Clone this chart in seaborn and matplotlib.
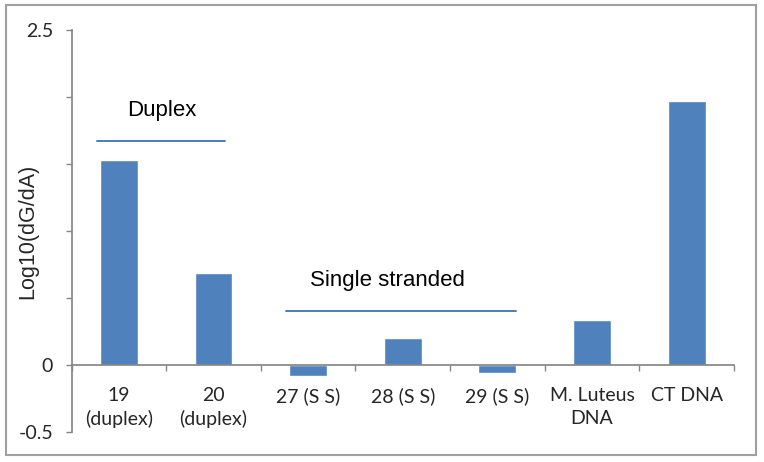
import matplotlib
matplotlib.use("Agg")
import matplotlib.pyplot as plt
import matplotlib.patches as mpatches
from matplotlib.ticker import FixedLocator
import seaborn as sns
import pandas as pd

categories = ["19\n(duplex)", "20\n(duplex)", "27 (S S)", "28 (S S)", "29 (S S)", "M. Luteus\nDNA", "CT DNA"]
values = [1.53, 0.69, -0.08, 0.20, -0.06, 0.335, 1.97]
ytick_values = [-0.5, 0, 0.5, 1.0, 1.5, 2.0, 2.5]
ytick_labels = ["-0.5", "0", "", "", "", "", "2.5"]
group_labels = ["Duplex", "Single stranded"]
group_line_x = [(-0.23, 1.12), (1.765, 4.196)]
group_line_y = [1.675, 0.405]
group_text_xy = [(0.455, 1.90), (2.84, 0.63)]

sns.set_theme(style="white")
plt.rcParams["font.family"] = ["Liberation Sans", "DejaVu Sans"]

df = pd.DataFrame({"cat": categories, "val": values})

fig = plt.figure(figsize=(7.64, 4.62), dpi=100)
ax = fig.add_axes([71.5/764, 30/462, (734-71.5)/764, (432-30)/462])

sns.barplot(data=df, x="cat", y="val", color="#4F81BD", saturation=1, width=0.4, ax=ax)

ax.set_ylim(-0.5, 2.5)
ax.set_xlim(-0.5, len(categories) - 0.5)
ax.set_yticks(ytick_values)
ax.set_yticklabels(ytick_labels)
ax.set_ylabel("Log10(dG/dA)", fontsize=15.5)
ax.yaxis.set_label_coords((38 - 71.5) / (734 - 71.5), 0.5)
ax.set_xlabel("")

spine_col = "#868686"
for s in ["top", "right"]:
    ax.spines[s].set_visible(False)
ax.spines["left"].set_color(spine_col)
ax.spines["bottom"].set_color(spine_col)
ax.spines["bottom"].set_position(("data", 0))
ax.tick_params(axis="y", which="major", left=True, length=4.3, color=spine_col, width=1, pad=9)
ax.tick_params(axis="x", which="major", bottom=False, length=0, pad=16)
ax.xaxis.set_minor_locator(FixedLocator([i - 0.5 for i in range(len(categories) + 1)]))
ax.tick_params(axis="x", which="minor", bottom=True, length=4.3, color=spine_col, width=1)
for lbl in ax.get_yticklabels():
    lbl.set_fontfamily(["Lato", "DejaVu Sans"])
    lbl.set_fontsize(14)
for lbl in ax.get_xticklabels():
    lbl.set_fontfamily(["Lato", "DejaVu Sans"])
    lbl.set_fontsize(14)
    lbl.set_linespacing(1.4)

for (x0, x1), y, (tx, ty), txt in zip(group_line_x, group_line_y, group_text_xy, group_labels):
    ax.plot([x0, x1], [y, y], color="#4A7EBB", lw=1.4)
    ax.text(tx, ty, txt, ha="center", va="center", fontsize=16, color="black")

border = mpatches.Rectangle((6/764, 7/462), (756-6)/764, (456-6)/462, transform=fig.transFigure,
                            fill=False, edgecolor="#a0a0a0", lw=1.5)
fig.patches.append(border)

fig.savefig("out.png", dpi=100, facecolor="white")
